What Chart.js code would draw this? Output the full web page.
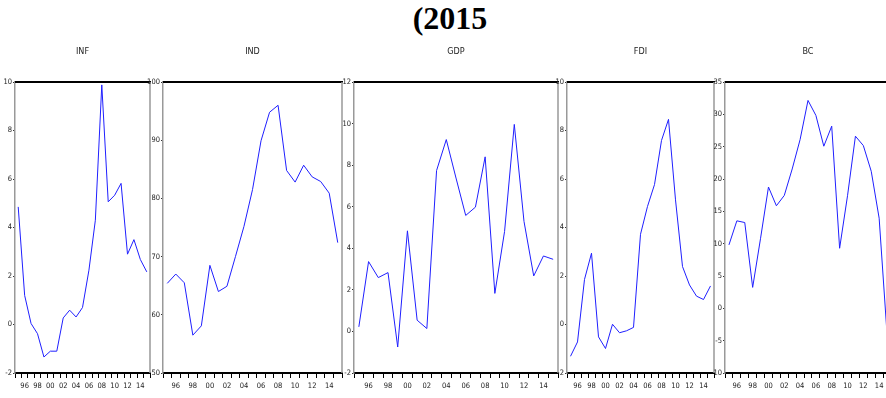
<!DOCTYPE html>
<html>
<head>
<meta charset="utf-8">
<script src="https://cdn.jsdelivr.net/npm/chart.js@4"></script>
<style>
  body { margin: 0; width: 886px; height: 398px; overflow: hidden; background: #fff; position: relative; }
  #mainTitle { position: absolute; left: 0; width: 900px; top: 0px; text-align: center; font: bold 32px 'Liberation Serif', 'Times New Roman', serif; color: #000; }
  .panel { position: absolute; top: 40px; height: 358px; }
</style>
</head>
<body>
<div id="mainTitle">(2015</div>
<div class="panel" id="p0"><canvas id="c0"></canvas></div>
<div class="panel" id="p1"><canvas id="c1"></canvas></div>
<div class="panel" id="p2"><canvas id="c2"></canvas></div>
<div class="panel" id="p3"><canvas id="c3"></canvas></div>
<div class="panel" id="p4"><canvas id="c4"></canvas></div>
<script>
// years 1995 - 2015
let years = [1995, 1996, 1997, 1998, 1999, 2000, 2001, 2002, 2003, 2004, 2005,
             2006, 2007, 2008, 2009, 2010, 2011, 2012, 2013, 2014, 2015];
let yearTicks = ["", "96", "", "98", "", "00", "", "02", "", "04", "",
                 "06", "", "08", "", "10", "", "12", "", "14", ""];

let infValues = [4.85, 1.2, 0.04, -0.38, -1.34, -1.1, -1.1, 0.27, 0.59, 0.31, 0.7,
                 2.24, 4.3, 9.88, 5.06, 5.33, 5.82, 2.9, 3.5, 2.68, 2.17];
let indValues = [65.4, 67.0, 65.5, 56.5, 58.1, 68.5, 64.0, 64.9, 70.0, 75.2, 81.5,
                 89.9, 94.8, 96.0, 84.8, 82.8, 85.7, 83.7, 82.9, 80.9, 72.4];
let gdpValues = [0.22, 3.36, 2.59, 2.83, -0.75, 4.84, 0.54, 0.14, 7.74, 9.23, 7.38,
                 5.58, 5.98, 8.4, 1.83, 4.81, 9.96, 5.29, 2.67, 3.63, 3.47];
let fdiValues = [-1.31, -0.72, 1.86, 2.94, -0.51, -0.99, 0.01, -0.34, -0.26, -0.12, 3.72,
                 4.87, 5.77, 7.59, 8.46, 5.14, 2.39, 1.63, 1.17, 1.03, 1.59];
let bcValues = [9.81, 13.53, 13.27, 3.24, 10.84, 18.76, 15.86, 17.46, 21.55, 26.1, 32.15,
                29.83, 25.07, 28.17, 9.29, 17.41, 26.62, 25.17, 21.19, 13.94, -4.0];

let seriesNames = ["INF", "IND", "GDP", "FDI", "BC"];
let seriesData = [infValues, indValues, gdpValues, fdiValues, bcValues];
let axisMin = [-2, 50, -2, -2, -10];
let axisMax = [10, 100, 12, 10, 35];
let axisStep = [2, 10, 2, 2, 5];

// plot area edges in page pixels
let areaLeft = [15, 163, 354, 567, 725];
let areaRight = [150, 342, 558, 714, 891];

const Y_W = 22;
const X_H = 25;
const SMALL_FONT = { family: "'Liberation Sans Narrow', 'DejaVu Sans Condensed', sans-serif", size: 7.5 };

//--FRAME: thick top line and grey right border----------------------------------
const framePlugin = {
  id: "frame",
  afterDraw(chart) {
    const a = chart.chartArea;
    const ctx = chart.ctx;
    ctx.save();
    ctx.strokeStyle = "#000";
    ctx.lineWidth = 2;
    ctx.beginPath();
    ctx.moveTo(a.left, a.top);
    ctx.lineTo(a.right + 1, a.top);
    ctx.stroke();
    ctx.strokeStyle = "#999";
    ctx.lineWidth = 1.5;
    ctx.beginPath();
    ctx.moveTo(a.right, a.top);
    ctx.lineTo(a.right, a.bottom);
    ctx.stroke();
    ctx.restore();
  },
};

function drawPanel(i) {
  const w = Y_W + (areaRight[i] - areaLeft[i]) + Y_W;
  const div = document.getElementById(`p${i}`);
  div.style.left = areaLeft[i] - Y_W + "px";
  div.style.width = w + "px";
  const canvas = document.getElementById(`c${i}`);
  canvas.width = w;
  canvas.height = 358;

  new Chart(canvas.getContext("2d"), {
    type: "line",
    data: {
      labels: years,
      datasets: [
        {
          label: seriesNames[i],
          data: seriesData[i],
          borderColor: "#1f1fff",
          borderWidth: 1,
          pointRadius: 0,
          tension: 0,
          fill: false,
        },
      ],
    },
    options: {
      responsive: false,
      animation: false,
      layout: { padding: 0 },
      plugins: {
        legend: { display: false },
        tooltip: { enabled: false },
        title: {
          display: true,
          text: seriesNames[i],
          color: "#222",
          font: { family: SMALL_FONT.family, size: 9, weight: "normal" },
          padding: { top: 6, bottom: 25.2 },
        },
      },
      scales: {
        x: {
          type: "category",
          offset: true,
          afterFit: (s) => { s.height = X_H; },
          grid: {
            offset: true,
            drawOnChartArea: false,
            drawTicks: true,
            tickLength: 5,
            color: "#000",
            lineWidth: 1,
          },
          border: { display: true, color: "#000", width: 2 },
          ticks: {
            autoSkip: false,
            maxRotation: 0,
            minRotation: 0,
            padding: 4,
            color: "#222",
            font: SMALL_FONT,
            callback: (val, idx) => yearTicks[idx],
          },
        },
        y: {
          min: axisMin[i],
          max: axisMax[i],
          afterFit: (s) => { s.width = Y_W; },
          grid: {
            drawOnChartArea: false,
            drawTicks: true,
            tickLength: 2,
            color: "#333",
          },
          border: { display: true, color: "#999", width: 1.5 },
          ticks: {
            stepSize: axisStep[i],
            padding: 1,
            color: "#222",
            font: SMALL_FONT,
          },
        },
        // empty right axis, only keeps the title centred over the plot
        yRight: {
          position: "right",
          afterFit: (s) => { s.width = Y_W; },
          grid: { display: false },
          border: { display: false },
          ticks: { display: false },
        },
      },
    },
    plugins: [framePlugin],
  });
}

for (let i = 0; i < seriesNames.length; i++) {
  drawPanel(i);
}
</script>
</body>
</html>
